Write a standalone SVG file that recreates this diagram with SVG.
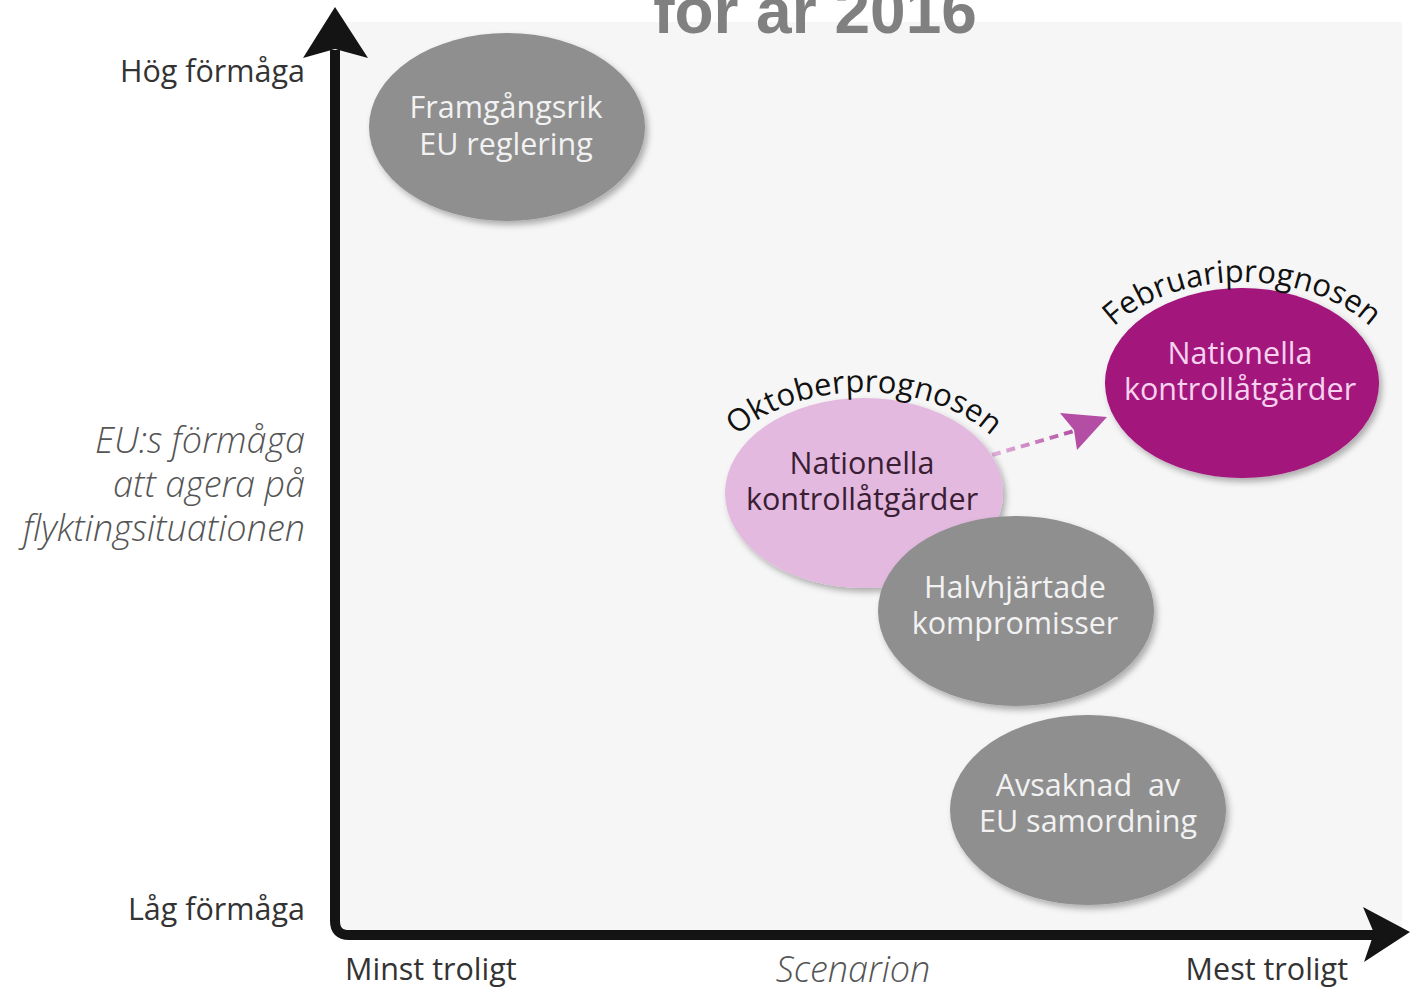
<svg xmlns="http://www.w3.org/2000/svg" width="1410" height="987" viewBox="0 0 1410 987">
<style>
.lbl{font-family:"Open Sans","Noto Sans",sans-serif;font-size:30.5px;fill:#333}
.ital{font-family:"Open Sans","Noto Sans",sans-serif;font-style:italic;font-weight:300;font-size:36px;fill:#555}
.nt{font-family:"Open Sans","Noto Sans",sans-serif;font-size:30.5px;text-anchor:middle}
.gray{fill:#8f8f8f}
.wt{fill:#f2f2f2}
.arc{font-family:"Open Sans","Noto Sans",sans-serif;font-size:31px;fill:#111}
</style>
<defs>
<filter id="sh" x="-10%" y="-10%" width="125%" height="130%">
<feDropShadow dx="3" dy="4" stdDeviation="3" flood-color="#000" flood-opacity="0.3"/>
</filter>
<linearGradient id="dg" x1="0" y1="0" x2="1" y2="0">
<stop offset="0" stop-color="#e2b6dc"/>
<stop offset="1" stop-color="#b44ea4"/>
</linearGradient>
<path id="arcO" d="M 706,500 A 158,108 0 0 1 1022,500"/>
<path id="arcF" d="M 1084,390 A 158,108 0 0 1 1400,390"/>
</defs>
<rect x="0" y="0" width="1410" height="987" fill="#ffffff"/>
<rect x="340" y="22" width="1062" height="908" fill="#f6f6f6"/>
<text x="815" y="33" text-anchor="middle" font-family="Liberation Sans, Arial, sans-serif" font-weight="bold" font-size="64" fill="#808080">för år 2016</text>

<g id="axes">
<path d="M 335,50 L 335,921 Q 335,935 349,935 L 1378,935" fill="none" stroke="#141414" stroke-width="10"/>
<polygon points="335,7 368,58 335,49 303,58" fill="#141414"/>
<polygon points="1410,932 1363,907 1374,933 1364,962" fill="#141414"/>
</g>

<g id="axis-labels">
<text class="lbl" x="305" y="82" text-anchor="end">Hög förmåga</text>
<text class="lbl" x="305" y="920" text-anchor="end">Låg förmåga</text>
<text class="ital" x="305" y="453" text-anchor="end">EU:s förmåga</text>
<text class="ital" x="305" y="497" text-anchor="end">att agera på</text>
<text class="ital" x="305" y="541" text-anchor="end">flyktingsituationen</text>
<text class="lbl" x="345" y="980">Minst troligt</text>
<text class="ital" x="853" y="982" text-anchor="middle">Scenarion</text>
<text class="lbl" x="1348" y="980" text-anchor="end">Mest troligt</text>
</g>

<g id="connectors">
<line x1="992" y1="455" x2="1074" y2="431" stroke="url(#dg)" stroke-width="4" stroke-dasharray="9 6"/>
<polygon points="1107,417 1060,413 1074,430 1077,450" fill="#b44ea4"/>
</g>

<g id="node-framgangsrik">
<ellipse cx="507" cy="127" rx="138" ry="94" class="gray" filter="url(#sh)"/>
<text class="nt wt" x="506" y="118">Framgångsrik</text>
<text class="nt wt" x="506" y="155">EU reglering</text>
</g>

<g id="node-oktober">
<ellipse cx="864" cy="493" rx="139" ry="95" fill="#e3b9df" filter="url(#sh)"/>
<text class="nt" fill="#3a1e33" x="862" y="474">Nationella</text>
<text class="nt" fill="#3a1e33" x="862" y="510">kontrollåtgärder</text>
<text class="arc"><textPath href="#arcO" startOffset="50%" text-anchor="middle">Oktoberprognosen</textPath></text>
</g>

<g id="node-halvhjartade">
<ellipse cx="1016" cy="611" rx="138" ry="95" class="gray" filter="url(#sh)"/>
<text class="nt wt" x="1015" y="598">Halvhjärtade</text>
<text class="nt wt" x="1015" y="634">kompromisser</text>
</g>

<g id="node-avsaknad">
<ellipse cx="1088" cy="810" rx="138" ry="95" class="gray" filter="url(#sh)"/>
<text class="nt wt" x="1088" y="796" xml:space="preserve">Avsaknad  av</text>
<text class="nt wt" x="1088" y="832">EU samordning</text>
</g>

<g id="node-februari">
<ellipse cx="1242" cy="383" rx="137" ry="95" fill="#a3127b" filter="url(#sh)"/>
<text class="nt" fill="#f6d2ef" x="1240" y="364">Nationella</text>
<text class="nt" fill="#f6d2ef" x="1240" y="400">kontrollåtgärder</text>
<text class="arc"><textPath href="#arcF" startOffset="50%" text-anchor="middle">Februariprognosen</textPath></text>
</g>
</svg>
